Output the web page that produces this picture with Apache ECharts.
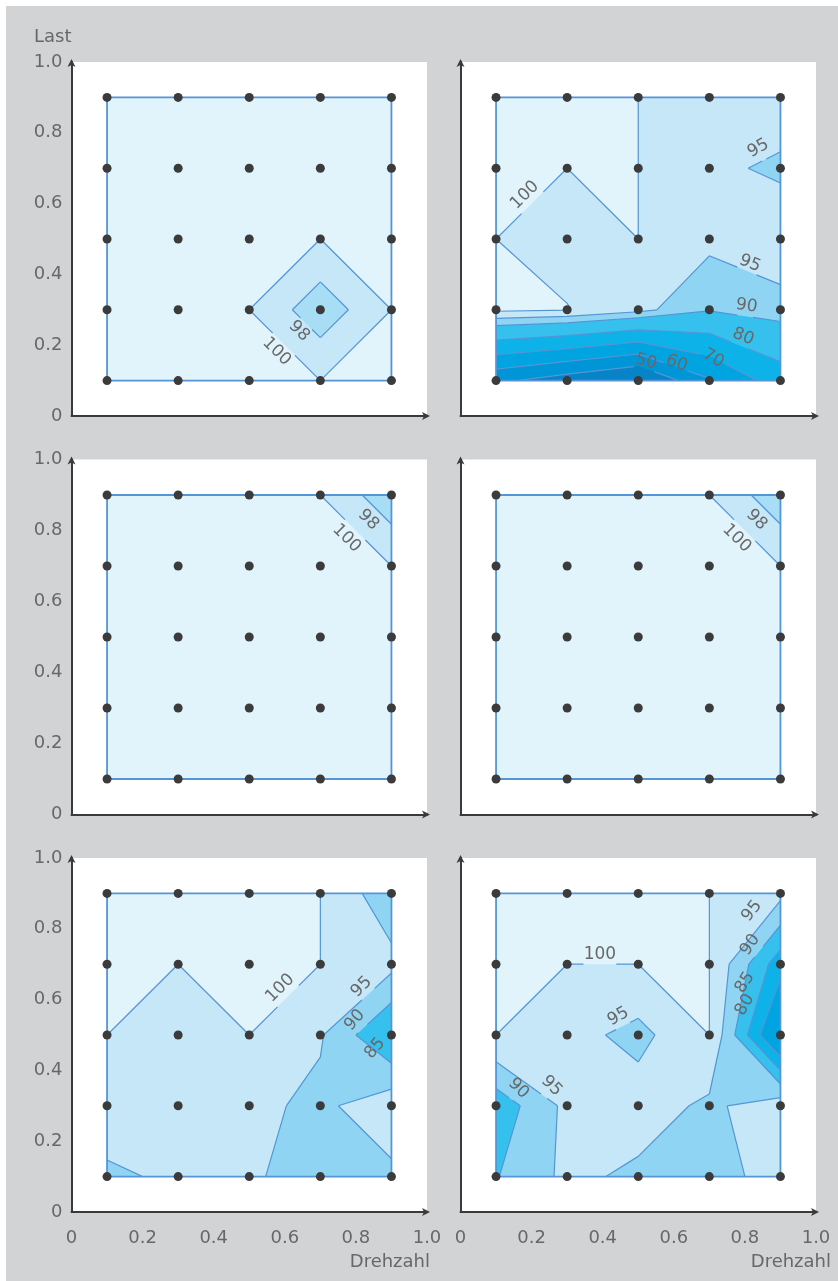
<!DOCTYPE html>
<html>
<head>
<meta charset="utf-8">
<script src="https://cdn.jsdelivr.net/npm/echarts@6/dist/echarts.min.js"></script>
<style>
html, body { margin: 0; padding: 0; background: #fff; }
#main { position: absolute; left: 6px; top: 6px; width: 832px; height: 1275px; background: #d2d3d5; }
</style>
</head>
<body>
<div id="main"></div>
<script>
// measuring points (Drehzahl / Last)
var gridX = [0.1, 0.3, 0.5, 0.7, 0.9];
var gridY = [0.1, 0.3, 0.5, 0.7, 0.9];
var tickLabels = ['0', '0.2', '0.4', '0.6', '0.8', '1.0'];

// values per panel, rows from Last 0.1 (bottom) to 0.9 (top)
var zTopLeft = [
    [100, 100, 100, 100, 100],
    [100, 100, 100, 96.7, 100],
    [100, 100, 100, 100, 100],
    [100, 100, 100, 100, 100],
    [100, 100, 100, 100, 100]
];
var zTopRight = [
    [52, 45, 38, 59, 75.3],
    [101, 100.2, 96.6, 90.5, 92.9],
    [100, 98, 100, 96.4, 98.8],
    [100, 100, 100, 96.2, 94],
    [100, 100, 100, 98, 98.3]
];
var zMidLeft = [
    [100, 100, 100, 100, 100],
    [100, 100, 100, 100, 100],
    [100, 100, 100, 100, 100],
    [100, 100, 100, 100, 100],
    [100, 100, 100, 100, 96.6]
];
var zMidRight = [
    [100, 100, 100, 100, 100],
    [100, 100, 100, 100, 100],
    [100, 100, 100, 100, 100],
    [100, 100, 100, 100, 100],
    [100, 100, 100, 100, 96.6]
];
var zBottomLeft = [
    [94, 96, 95.6, 93, 93.9],
    [98.25, 98, 96.2, 93.9, 98.25],
    [100, 98, 100, 95.5, 84.5],
    [100, 100, 100, 100, 96.5],
    [100, 100, 100, 100, 91.5]
];
var zBottomRight = [
    [89.7, 96.2, 94, 93, 97],
    [86.75, 96.3, 97.5, 94, 98],
    [100, 96.8, 93.46, 100, 72],
    [100, 100, 100, 100, 82],
    [100, 100, 100, 100, 96.5]
];

// contour levels
var levelsTopLeft = [98, 100];
var levelsTopRight = [50, 60, 70, 80, 90, 95, 100];
var levelsMidLeft = [98, 100];
var levelsMidRight = [98, 100];
var levelsBottomLeft = [85, 90, 95, 100];
var levelsBottomRight = [80, 85, 90, 95, 100];

// contour labels: x, y, text, angle
var labelsTopLeft = [[0.64, 0.24, '98', -45], [0.577, 0.182, '100', -45]];
var labelsTopRight = [
    [0.181, 0.624, '100', 45], [0.838, 0.756, '95', 30], [0.814, 0.431, '95', -22],
    [0.805, 0.311, '90', -8], [0.795, 0.224, '80', -22], [0.711, 0.163, '70', -30],
    [0.608, 0.149, '60', -20], [0.522, 0.153, '50', -15]
];
var labelsMidLeft = [[0.835, 0.83, '98', -45], [0.774, 0.778, '100', -45]];
var labelsMidRight = [[0.833, 0.83, '98', -45], [0.777, 0.778, '100', -45]];
var labelsBottomLeft = [
    [0.587, 0.632, '100', 45], [0.816, 0.636, '95', 45], [0.797, 0.542, '90', 48], [0.854, 0.462, '85', 50]
];
var labelsBottomRight = [
    [0.392, 0.726, '100', 0], [0.444, 0.552, '95', 30], [0.163, 0.349, '90', -45], [0.256, 0.356, '95', -45],
    [0.82, 0.85, '95', 52], [0.815, 0.755, '90', 55], [0.8, 0.648, '85', 58], [0.8, 0.585, '80', 60]
];

var panels = [
    { z: zTopLeft, levels: levelsTopLeft, labels: labelsTopLeft,
      colors: ['#a7ddf5', '#c6e7f8', '#e1f3fb'] },
    { z: zTopRight, levels: levelsTopRight, labels: labelsTopRight,
      colors: ['#0783c8', '#0095d7', '#00a4e0', '#0db2e9', '#36c0ed', '#8fd5f3', '#c6e7f8', '#e1f3fb'] },
    { z: zMidLeft, levels: levelsMidLeft, labels: labelsMidLeft,
      colors: ['#a7ddf5', '#c6e7f8', '#e1f3fb'] },
    { z: zMidRight, levels: levelsMidRight, labels: labelsMidRight,
      colors: ['#a7ddf5', '#c6e7f8', '#e1f3fb'] },
    { z: zBottomLeft, levels: levelsBottomLeft, labels: labelsBottomLeft,
      colors: ['#0db2e9', '#36c0ed', '#8fd5f3', '#c6e7f8', '#e1f3fb'] },
    { z: zBottomRight, levels: levelsBottomRight, labels: labelsBottomRight,
      colors: ['#00a4e0', '#0db2e9', '#36c0ed', '#8fd5f3', '#c6e7f8', '#e1f3fb'] }
];

var lineColor = '#5495d6';
var textColor = '#686868';
var font = 'DejaVu Sans';

// ---- contouring on the measuring grid (linear along cell edges) ----
function cornerPts(z, i, j) {
    return [
        [gridX[i], gridY[j], z[j][i]],
        [gridX[i + 1], gridY[j], z[j][i + 1]],
        [gridX[i + 1], gridY[j + 1], z[j + 1][i + 1]],
        [gridX[i], gridY[j + 1], z[j + 1][i]]
    ];
}
function cut(a, b, L) {
    var t = (L - a[2]) / (b[2] - a[2]);
    return [a[0] + t * (b[0] - a[0]), a[1] + t * (b[1] - a[1])];
}
function isSaddle(ins) {
    return ins[0] === ins[2] && ins[1] === ins[3] && ins[0] !== ins[1];
}
function mean(p) {
    return (p[0][2] + p[1][2] + p[2][2] + p[3][2]) / 4;
}
// part of one cell where value >= L
function cellRegion(p, L) {
    var ins = p.map(function (q) { return q[2] >= L; });
    var k;
    if (isSaddle(ins) && mean(p) < L) {
        var out = [];
        for (k = 0; k < 4; k++) {
            if (!ins[k]) continue;
            out.push([cut(p[(k + 3) % 4], p[k], L), p[k], cut(p[k], p[(k + 1) % 4], L)]);
        }
        return out;
    }
    var poly = [];
    for (k = 0; k < 4; k++) {
        var s = p[k], e = p[(k + 1) % 4];
        var si = s[2] >= L, ei = e[2] >= L;
        if (si) poly.push(s);
        if (si !== ei) poly.push(cut(s, e, L));
    }
    return poly.length > 2 ? [poly] : [];
}
function cellSegments(p, L) {
    var ins = p.map(function (q) { return q[2] >= L; });
    var pts = [], k;
    for (k = 0; k < 4; k++) {
        var e = (k + 1) % 4;
        pts.push(ins[k] !== ins[e] ? cut(p[k], p[e], L) : null);
    }
    if (isSaddle(ins)) {
        var lone = mean(p) < L;
        var segs = [];
        for (k = 0; k < 4; k++) {
            if (ins[k] === lone) segs.push([pts[(k + 3) % 4], pts[k]]);
        }
        return segs;
    }
    var found = pts.filter(function (q) { return q; });
    return found.length === 2 ? [found] : [];
}
function gapAround(a, b, marks) {
    var dx = b[0] - a[0], dy = b[1] - a[1];
    var A = dx * dx + dy * dy;
    if (A < 1e-6) return [];
    var parts = [[0, 1]];
    marks.forEach(function (m) {
        var fx = a[0] - m.x, fy = a[1] - m.y;
        var B = 2 * (fx * dx + fy * dy), C = fx * fx + fy * fy - m.r * m.r;
        var disc = B * B - 4 * A * C;
        if (disc <= 0) return;
        var s = Math.sqrt(disc), t1 = (-B - s) / (2 * A), t2 = (-B + s) / (2 * A);
        var next = [];
        parts.forEach(function (q) {
            if (t2 <= q[0] || t1 >= q[1]) { next.push(q); return; }
            if (t1 > q[0]) next.push([q[0], t1]);
            if (t2 < q[1]) next.push([t2, q[1]]);
        });
        parts = next;
    });
    return parts.map(function (q) {
        return [[a[0] + q[0] * dx, a[1] + q[0] * dy], [a[0] + q[1] * dx, a[1] + q[1] * dy]];
    });
}
function px(c) { return c[0].toFixed(2) + ',' + c[1].toFixed(2); }

function fillRender(panel) {
    return function (params, api) {
        var n = params.dataIndex;
        var L = n === 0 ? -Infinity : panel.levels[n - 1];
        var d = '';
        for (var j = 0; j < 4; j++) {
            for (var i = 0; i < 4; i++) {
                cellRegion(cornerPts(panel.z, i, j), L).forEach(function (poly) {
                    poly.forEach(function (q, m) {
                        d += (m ? 'L' : 'M') + px(api.coord([q[0], q[1]]));
                    });
                    d += 'Z';
                });
            }
        }
        if (!d) return null;
        return { type: 'path', silent: true, shape: { pathData: d }, style: { fill: panel.colors[n] } };
    };
}

function contourRender(panel) {
    return function (params, api) {
        var marks = panel.labels.map(function (lb) {
            var c = api.coord([lb[0], lb[1]]);
            return { x: c[0], y: c[1], text: lb[2], level: +lb[2], angle: lb[3], r: lb[2].length * 5.6 + 2 };
        });
        var d = '';
        panel.levels.forEach(function (L) {
            var near = marks.filter(function (m) { return m.level === L; });
            for (var j = 0; j < 4; j++) {
                for (var i = 0; i < 4; i++) {
                    cellSegments(cornerPts(panel.z, i, j), L).forEach(function (sg) {
                        gapAround(api.coord(sg[0]), api.coord(sg[1]), near).forEach(function (pc) {
                            d += 'M' + px(pc[0]) + 'L' + px(pc[1]);
                        });
                    });
                }
            }
        });
        var children = [];
        if (d) {
            children.push({ type: 'path', silent: true, shape: { pathData: d },
                style: { fill: 'none', stroke: lineColor, lineWidth: 1.2 } });
        }
        var lo = api.coord([gridX[0], gridY[0]]), hi = api.coord([gridX[4], gridY[4]]);
        children.push({ type: 'rect', silent: true,
            shape: { x: lo[0], y: hi[1], width: hi[0] - lo[0], height: lo[1] - hi[1] },
            style: { fill: 'none', stroke: lineColor, lineWidth: 1.8 } });
        marks.forEach(function (m) {
            children.push({ type: 'text', silent: true, x: m.x, y: m.y, rotation: m.angle * Math.PI / 180,
                style: { text: m.text, fill: textColor, font: '17px "' + font + '"',
                    align: 'center', verticalAlign: 'middle', textAlign: 'center', textVerticalAlign: 'middle' } });
        });
        return { type: 'group', children: children };
    };
}

var nodes = [];
gridY.forEach(function (y) { gridX.forEach(function (x) { nodes.push([x, y]); }); });

var colLeft = [65.5, 454.5];
var rowTop = [56, 453.5, 852];
var rowHeight = [354, 355, 354];

var grids = [], xAxes = [], yAxes = [], series = [];
panels.forEach(function (panel, k) {
    var col = k % 2, row = Math.floor(k / 2);
    grids.push({ left: colLeft[col], top: rowTop[row], width: 355.5, height: rowHeight[row],
        show: true, backgroundColor: '#fff', borderWidth: 0, outerBoundsMode: 'none' });
    var axisLine = { show: true, symbol: ['none', 'arrow'], symbolSize: [6, 8], symbolOffset: [0, 3],
        lineStyle: { color: '#3a3a3a', width: 2 } };
    var label = { color: textColor, fontSize: 18, fontFamily: font,
        formatter: function (v) { return tickLabels[Math.round(v * 5)]; } };
    xAxes.push({
        gridIndex: k, type: 'value', min: 0, max: 1, interval: 0.2,
        axisLine: axisLine, axisTick: { show: false }, splitLine: { show: false },
        axisLabel: Object.assign({ show: row === 2, margin: 17 }, label),
        name: row === 2 ? 'Drehzahl' : '', nameLocation: 'end', nameGap: col === 0 ? 3 : 15,
        nameTextStyle: { color: textColor, fontSize: 18, fontFamily: font, align: 'right',
            verticalAlign: 'top', padding: [41, 0, 0, 0] }
    });
    yAxes.push({
        gridIndex: k, type: 'value', min: 0, max: 1, interval: 0.2,
        axisLine: axisLine, axisTick: { show: false }, splitLine: { show: false },
        axisLabel: Object.assign({ show: col === 0, margin: 9 }, label),
        name: k === 0 ? 'Last' : '', nameLocation: 'end', nameGap: 16,
        nameTextStyle: { color: textColor, fontSize: 18, fontFamily: font, align: 'right', verticalAlign: 'bottom' }
    });
    series.push({
        type: 'custom', xAxisIndex: k, yAxisIndex: k, z: 1, silent: true, clip: false,
        data: panel.colors.map(function () { return [0.5, 0.5]; }),
        renderItem: fillRender(panel)
    });
    series.push({
        type: 'custom', xAxisIndex: k, yAxisIndex: k, z: 2, silent: true, clip: false,
        data: [[0.5, 0.5]],
        renderItem: contourRender(panel)
    });
    series.push({
        type: 'scatter', xAxisIndex: k, yAxisIndex: k, z: 3, silent: true,
        symbol: 'circle', symbolSize: 9, itemStyle: { color: '#3b3b3b', opacity: 1 },
        data: nodes
    });
});

var chart = echarts.init(document.getElementById('main'));
chart.setOption({
    animation: false,
    backgroundColor: 'transparent',
    textStyle: { fontFamily: font },
    grid: grids,
    xAxis: xAxes,
    yAxis: yAxes,
    series: series
});
</script>
</body>
</html>
